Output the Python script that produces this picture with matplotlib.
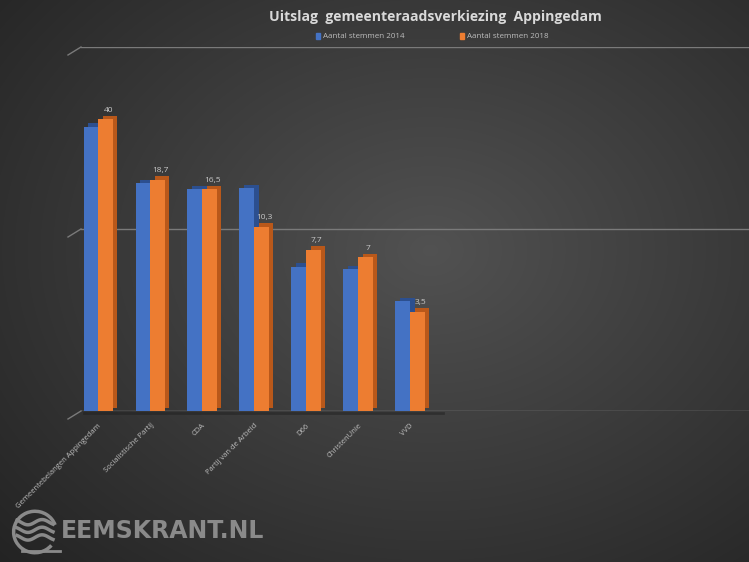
import numpy as np
import matplotlib
matplotlib.use("Agg")
import matplotlib.pyplot as plt
from matplotlib.transforms import ScaledTranslation
from matplotlib.ticker import NullLocator
from matplotlib.lines import Line2D
from matplotlib.patches import Arc

partijen = ["Gemeentebelangen Appingedam", "Socialistische Partij", "CDA",
            "Partij van de Arbeid", "D66", "ChristenUnie", "VVD"]
stemmen_2014 = [36.5, 17.8, 16.5, 16.7, 6.2, 6.0, 4.0]
stemmen_2018 = [40, 18.7, 16.5, 10.3, 7.7, 7, 3.5]
series_names = ["Aantal stemmen 2014", "Aantal stemmen 2018"]

blue, blue_side = "#4472c4", "#2c4f8f"
orange, orange_side = "#ed7d31", "#b9581a"
txt = "#c8c8c8"

W, H = 749, 562
fig = plt.figure(figsize=(W / 100, H / 100), dpi=100)

# background: dark radial gradient
bg = fig.add_axes([0, 0, 1, 1], zorder=-10)
yy, xx = np.mgrid[0:H, 0:W]
d = np.sqrt(((xx - 430) / 520.0) ** 2 + ((yy - 250) / 400.0) ** 2)
g = np.clip(0.32 - 0.16 * d, 0.12, 0.33)
bg.imshow(np.dstack([g, g, g]), aspect="auto", extent=[0, 1, 0, 1])
bg.axis("off")

# main axes (log scale, 1..100)
ax = fig.add_axes([70 / W, 1 - 411 / H, 679 / W, 364 / H])
ax.set_facecolor("none")
ax.set_yscale("log")
ax.set_ylim(1, 100)
ax.set_xlim(-0.54, 12.52)
for s in ax.spines.values():
    s.set_visible(False)
ax.yaxis.set_major_locator(NullLocator())
ax.yaxis.set_minor_locator(NullLocator())

gx0 = 11 / 679
for gv in [10, 100]:
    ax.axhline(gv, xmin=gx0, color="#7a7a7a", lw=1.0, zorder=0.5)
ax.axhline(1, xmin=gx0, color="#8a8a8a", lw=1.0, zorder=0.5)

x = np.arange(len(partijen))
w = 0.28
shift = ScaledTranslation(0.045, 0.035, fig.dpi_scale_trans)
for off, vals, c, cs in [(-w / 2, stemmen_2014, blue, blue_side),
                         (w / 2, stemmen_2018, orange, orange_side)]:
    h = np.array(vals) - 1
    ax.bar(x + off, h, width=w, bottom=1, color=cs, zorder=2,
           transform=ax.transData + shift)
    ax.bar(x + off, h, width=w, bottom=1, color=c, zorder=3)

for xi, v in zip(x, stemmen_2018):
    ax.annotate(f"{v:g}".replace(".", ","), (xi + w / 2, v), xytext=(2, 4),
                textcoords="offset points", ha="center", va="bottom",
                fontsize=6, color=txt, family="Open Sans", zorder=5)

ax.set_xticks(x)
ax.set_xticklabels(partijen, rotation=45, ha="right", rotation_mode="anchor",
                   fontsize=5.5, color="#bdbdbd", family="Open Sans")
ax.tick_params(axis="x", length=0, pad=8)

# perspective strokes at the left of the gridlines, and floor shadow
fig.canvas.draw()
for gv in [1, 10, 100]:
    px, py = ax.transData.transform((ax.get_xlim()[0], gv))
    px += 11
    fig.add_artist(Line2D([px - 13, px], [py - 8, py], color="#7a7a7a",
                          lw=1.0, transform=None))
fx0, fy = ax.transData.transform((x[0] - w, 1))
fx1, _ = ax.transData.transform((x[-1] + w + 0.35, 1))
fig.add_artist(Line2D([fx0, fx1], [fy - 2, fy - 2], color="#1c1c1c",
                      lw=2, alpha=0.45, transform=None, zorder=1))

fig.text(435.5 / W, 1 - 17 / H, "Uitslag  gemeenteraadsverkiezing  Appingedam",
         ha="center", va="center", fontsize=10.1, fontweight="bold",
         color="#d9d9d9", family="Open Sans")

for lx, name, c in [(318, series_names[0], blue), (462, series_names[1], orange)]:
    fig.patches.append(plt.Rectangle(((lx - 2) / W, 1 - 39 / H), 4 / W, 6 / H,
                                     color=c, transform=fig.transFigure))
    fig.text((lx + 5) / W, 1 - 36 / H, name, ha="left", va="center",
             fontsize=5.8, color="#bdbdbd", family="Open Sans")

# watermark
fig.text(61 / W, 1 - 531 / H, "EEMSKRANT.NL", ha="left", va="center",
         fontsize=17, fontweight="bold", color="#8a8a8a", family="DejaVu Sans")
logo = fig.add_axes([8 / W, 1 - 556 / H, 54 / W, 48 / H])
logo.set_xlim(-1.2, 1.2)
logo.set_ylim(-1.1, 1.1)
logo.axis("off")
logo.add_patch(Arc((0, 0), 1.9, 1.9, theta1=20, theta2=320, color="#8a8a8a", lw=2.5))
t = np.linspace(-0.8, 0.8, 60)
for yo in [0.45, 0.1, -0.25]:
    logo.plot(t, yo + 0.12 * np.sin(t * 5), color="#8a8a8a", lw=2.5)
logo.plot([-0.6, 1.1], [-0.85, -0.85], color="#8a8a8a", lw=2)

fig.savefig("out.png", dpi=100)
